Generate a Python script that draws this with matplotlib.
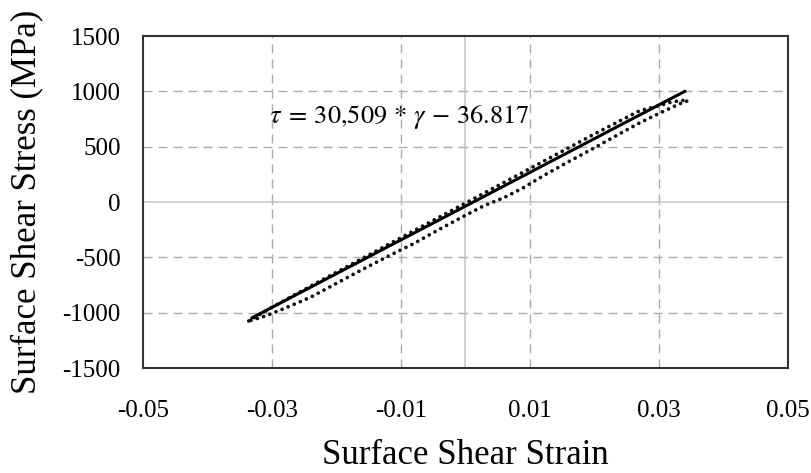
import matplotlib
matplotlib.use("Agg")
import matplotlib.pyplot as plt

# ---- data ----
fit_strain = [-0.0333, 0.0342]
fit_stress = [-1053, 1006]

loop_strain = [-0.0336, -0.0320, -0.0300, -0.0270, -0.0240, -0.0200, -0.0160, -0.0120,
               -0.0080, -0.0040, 0.0000, 0.0040, 0.0080, 0.0120, 0.0160, 0.0200,
               0.0240, 0.0270, 0.0300, 0.0320, 0.0340, 0.0345,
               0.0335, 0.0320, 0.0300, 0.0270, 0.0240, 0.0200, 0.0160, 0.0120,
               0.0090, 0.0060, 0.0045, 0.0030, 0.0000, -0.0040, -0.0080, -0.0120,
               -0.0160, -0.0200, -0.0240, -0.0280, -0.0310, -0.0330, -0.0336]
loop_stress = [-1075, -1020, -952, -855, -760, -635, -510, -385,
               -260, -135, -10, 115, 240, 365, 490, 615,
               735, 825, 870, 905, 920, 915,
               895, 855, 800, 715, 620, 490, 365, 235,
               130, 40, 5, -30, -120, -245, -375, -490,
               -610, -735, -860, -960, -1030, -1065, -1075]

x_ticks = [-0.05, -0.03, -0.01, 0.01, 0.03, 0.05]
x_ticklabels = ["-0.05", "-0.03", "-0.01", "0.01", "0.03", "0.05"]
y_ticks = [-1500, -1000, -500, 0, 500, 1000, 1500]
y_ticklabels = ["-1500", "-1000", "-500", "0", "500", "1000", "1500"]
grid_x = [-0.03, -0.01, 0.01, 0.03]
grid_y = [-1000, -500, 500, 1000]

equation = r"$\tau\;=\,30{,}509\,*\,\gamma\,-\,36.817$"

# ---- style ----
plt.rcParams['font.family'] = ['Liberation Serif', 'DejaVu Serif']
plt.rcParams['mathtext.fontset'] = 'stix'

fig = plt.figure(figsize=(8.12, 4.73), dpi=100)
ax = fig.add_axes([143/812, 1-368/473, (788-143)/812, (368-36)/473])

ax.set_xlim(-0.05, 0.05)
ax.set_ylim(-1500, 1500)

grid_col = '#ababab'
for gx in grid_x:
    ax.axvline(gx, color=grid_col, lw=1.0, dashes=(6.5, 4.3), zorder=1)
for gy in grid_y:
    ax.axhline(gy, color=grid_col, lw=1.0, dashes=(6.5, 4.3), zorder=1)
ax.axvline(0, color='#c4c4c4', lw=1.1, zorder=1)
ax.axhline(0, color='#c4c4c4', lw=1.1, zorder=1)

# small tick marks on the zero axes
ax.plot(grid_x, [0]*len(grid_x), linestyle='none', marker='|', ms=5,
        mew=1.0, color='#bbbbbb', zorder=1)
ax.plot([0]*len(grid_y), grid_y, linestyle='none', marker='_', ms=5,
        mew=1.0, color='#bbbbbb', zorder=1)

ax.plot(loop_strain, loop_stress, color='#111111', lw=2.7,
        linestyle=(0, (0.01, 1.75)), dash_capstyle='round', zorder=3)
ax.plot(fit_strain, fit_stress, color='black', lw=2.2, zorder=4,
        solid_capstyle='butt')

ax.text(-0.0304, 768, equation, fontsize=19, ha='left', va='center', zorder=5)

ax.set_xticks(x_ticks)
ax.set_xticklabels(x_ticklabels)
ax.set_yticks(y_ticks)
ax.set_yticklabels(y_ticklabels)
ax.tick_params(length=0, labelsize=18)
ax.tick_params(axis='x', pad=23)
ax.tick_params(axis='y', pad=16)

for s in ax.spines.values():
    s.set_color('#333333')
    s.set_linewidth(1.5)

ax.set_xlabel("Surface Shear Strain", fontsize=25, labelpad=12)
ax.set_ylabel("Surface Shear Stress (MPa)", fontsize=25, labelpad=14)

fig.savefig("out.png", dpi=100)
